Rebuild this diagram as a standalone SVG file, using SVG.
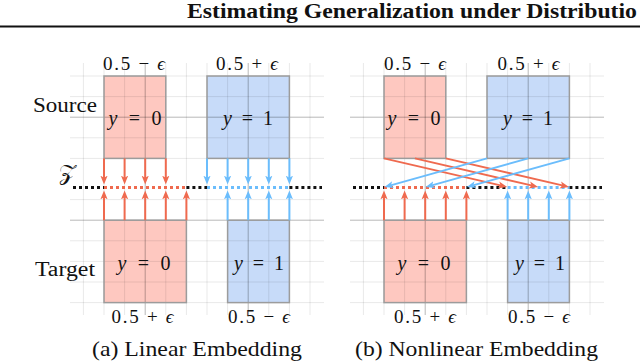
<svg xmlns="http://www.w3.org/2000/svg" width="640" height="362" viewBox="0 0 640 362">
<defs>
<style>
.t{font-family:"Liberation Serif","DejaVu Serif",serif;fill:#111;}
.lab{font-size:19px;text-anchor:middle;}
.math{font-size:20px;text-anchor:middle;}
.i{font-style:italic;}
.minor{stroke:#000;stroke-opacity:0.09;stroke-width:1;fill:none;}
.major{stroke:#000;stroke-opacity:0.28;stroke-width:1;fill:none;}
.boxr{fill:#FEC8C0;}
.boxb{fill:#C7DBF9;}
.edge{fill:none;stroke:#9c9c9c;stroke-width:1.5;}
.ar{stroke:#EF6A4F;stroke-width:2;fill:none;}
.ab{stroke:#6BBDFC;stroke-width:2;fill:none;}
.dk{stroke:#111;stroke-width:3;stroke-dasharray:3 3;fill:none;}
.dr{stroke:#EF6A4F;stroke-width:3;stroke-dasharray:3 3;fill:none;}
.db{stroke:#6BBDFC;stroke-width:3;stroke-dasharray:3 3;fill:none;}
</style>
<marker id="mr" viewBox="0 0 10 8" refX="6" refY="4" markerWidth="9" markerHeight="8" markerUnits="userSpaceOnUse" orient="auto">
<path d="M0,0 L10,4 L0,8 L2.5,4 z" fill="#EF6A4F"/>
</marker>
<marker id="mb" viewBox="0 0 10 8" refX="6" refY="4" markerWidth="9" markerHeight="8" markerUnits="userSpaceOnUse" orient="auto">
<path d="M0,0 L10,4 L0,8 L2.5,4 z" fill="#6BBDFC"/>
</marker>
</defs>
<rect width="640" height="362" fill="#fff"/>

<text class="t" x="187" y="18" font-size="21" font-weight="bold" textLength="450" lengthAdjust="spacingAndGlyphs">Estimating Generalization under Distributio</text>
<line x1="0" y1="26.5" x2="640" y2="26.5" stroke="#111" stroke-width="2.2"/>

<!-- Panel (a) -->
<g id="panel-a">
<g id="a-src-y0"><rect class="boxr" x="104" y="76" width="61.8" height="82.4"/></g>
<g id="a-src-y1"><rect class="boxb" x="207" y="76" width="82.4" height="82.4"/></g>
<g id="a-tgt-y0"><rect class="boxr" x="104" y="220.2" width="82.4" height="82.4"/></g>
<g id="a-tgt-y1"><rect class="boxb" x="227.6" y="220.2" width="61.8" height="82.4"/></g>
<g id="a-grid">
<path class="minor" d="M83.4,63V315M104,63V315M124.6,63V315M165.8,63V315M186.4,63V315M207,63V315M227.6,63V315M268.8,63V315M289.4,63V315M310,63V315"/>
<path class="minor" d="M70,76H324M70,96.6H324M70,137.8H324M70,158.4H324M70,199.6H324M70,240.8H324M70,261.4H324M70,282H324M70,302.6H324"/>
<path class="major" d="M145.2,63V315M248.2,63V315M70,117.2H324M70,220.2H324"/>
</g>
<rect class="edge" x="104" y="76" width="61.8" height="82.4"/>
<rect class="edge" x="207" y="76" width="82.4" height="82.4"/>
<rect class="edge" x="104" y="220.2" width="82.4" height="82.4"/>
<rect class="edge" x="227.6" y="220.2" width="61.8" height="82.4"/>
</g>

<!-- Panel (b) -->
<g id="panel-b">
<g id="b-src-y0"><rect class="boxr" x="384" y="76" width="61.8" height="82.4"/></g>
<g id="b-src-y1"><rect class="boxb" x="487" y="76" width="82.4" height="82.4"/></g>
<g id="b-tgt-y0"><rect class="boxr" x="384" y="220.2" width="82.4" height="82.4"/></g>
<g id="b-tgt-y1"><rect class="boxb" x="507.6" y="220.2" width="61.8" height="82.4"/></g>
<g id="b-grid">
<path class="minor" d="M363.4,63V315M384,63V315M404.6,63V315M445.8,63V315M466.4,63V315M487,63V315M507.6,63V315M548.8,63V315M569.4,63V315M590,63V315"/>
<path class="minor" d="M350,76H604M350,96.6H604M350,137.8H604M350,158.4H604M350,199.6H604M350,240.8H604M350,261.4H604M350,282H604M350,302.6H604"/>
<path class="major" d="M425.2,63V315M528.2,63V315M350,117.2H604M350,220.2H604"/>
</g>
<rect class="edge" x="384" y="76" width="61.8" height="82.4"/>
<rect class="edge" x="487" y="76" width="82.4" height="82.4"/>
<rect class="edge" x="384" y="220.2" width="82.4" height="82.4"/>
<rect class="edge" x="507.6" y="220.2" width="61.8" height="82.4"/>
</g>

<g id="connectors">
<path class="dk" d="M73,187.5H104M186.4,187.5H207M289.4,187.5H322"/>
<path class="dr" d="M104,187.5H186.4"/>
<path class="db" d="M207,187.5H289.4"/>
<path class="dk" d="M353,187.5H384M466.4,187.5H507.6M569.4,187.5H602"/>
<path class="dr" d="M384,187.5H466.4"/>
<path class="db" d="M507.6,187.5H569.4"/>

<g class="ar" marker-end="url(#mr)">
<path d="M104,158.4V181"/><path d="M124.6,158.4V181"/><path d="M145.2,158.4V181"/><path d="M165.8,158.4V181"/>
</g>
<g class="ab" marker-end="url(#mb)">
<path d="M207,158.4V181"/><path d="M227.6,158.4V181"/><path d="M248.2,158.4V181"/><path d="M268.8,158.4V181"/><path d="M289.4,158.4V181"/>
</g>
<g class="ar" marker-end="url(#mr)">
<path d="M104,220.2V194"/><path d="M124.6,220.2V194"/><path d="M145.2,220.2V194"/><path d="M165.8,220.2V194"/><path d="M186.4,220.2V194"/>
</g>
<g class="ab" marker-end="url(#mb)">
<path d="M227.6,220.2V194"/><path d="M248.2,220.2V194"/><path d="M268.8,220.2V194"/><path d="M289.4,220.2V194"/>
</g>

<g class="ar" marker-end="url(#mr)">
<path d="M384,158.4L503.7,186.1"/><path d="M414.9,158.4L534.6,186.1"/><path d="M445.8,158.4L565.5,186.1"/>
</g>
<g class="ab" marker-end="url(#mb)">
<path d="M487,158.4L387.9,186.1"/><path d="M528.2,158.4L429.1,186.1"/><path d="M569.4,158.4L470.3,186.1"/>
</g>
<g class="ar" marker-end="url(#mr)">
<path d="M384,220.2V194"/><path d="M404.6,220.2V194"/><path d="M425.2,220.2V194"/><path d="M445.8,220.2V194"/><path d="M466.4,220.2V194"/>
</g>
<g class="ab" marker-end="url(#mb)">
<path d="M507.6,220.2V194"/><path d="M528.2,220.2V194"/><path d="M548.8,220.2V194"/><path d="M569.4,220.2V194"/>
</g>
</g>

<g id="labels">
<text class="t lab" x="134" y="69.5" textLength="62" lengthAdjust="spacing">0.5 − <tspan class="i">ϵ</tspan></text>
<text class="t lab" x="247" y="69.5" textLength="62" lengthAdjust="spacing">0.5 + <tspan class="i">ϵ</tspan></text>
<text class="t lab" x="142.5" y="322.5" textLength="62" lengthAdjust="spacing">0.5 + <tspan class="i">ϵ</tspan></text>
<text class="t lab" x="259" y="322.5" textLength="62" lengthAdjust="spacing">0.5 − <tspan class="i">ϵ</tspan></text>
<text class="t lab" x="415" y="69.5" textLength="62" lengthAdjust="spacing">0.5 − <tspan class="i">ϵ</tspan></text>
<text class="t lab" x="528.5" y="69.5" textLength="62" lengthAdjust="spacing">0.5 + <tspan class="i">ϵ</tspan></text>
<text class="t lab" x="425" y="322.5" textLength="62" lengthAdjust="spacing">0.5 + <tspan class="i">ϵ</tspan></text>
<text class="t lab" x="539" y="322.5" textLength="62" lengthAdjust="spacing">0.5 − <tspan class="i">ϵ</tspan></text>

<text class="t math" x="135" y="125" textLength="53" lengthAdjust="spacing"><tspan class="i">y</tspan> = 0</text>
<text class="t math" x="248" y="125" textLength="50" lengthAdjust="spacing"><tspan class="i">y</tspan> = 1</text>
<text class="t math" x="144" y="270" textLength="53" lengthAdjust="spacing"><tspan class="i">y</tspan> = 0</text>
<text class="t math" x="259" y="270" textLength="50" lengthAdjust="spacing"><tspan class="i">y</tspan> = 1</text>
<text class="t math" x="414" y="125" textLength="53" lengthAdjust="spacing"><tspan class="i">y</tspan> = 0</text>
<text class="t math" x="528" y="125" textLength="50" lengthAdjust="spacing"><tspan class="i">y</tspan> = 1</text>
<text class="t math" x="424" y="270" textLength="53" lengthAdjust="spacing"><tspan class="i">y</tspan> = 0</text>
<text class="t math" x="540" y="270" textLength="50" lengthAdjust="spacing"><tspan class="i">y</tspan> = 1</text>

<text class="t" x="33" y="112" font-size="20" textLength="64" lengthAdjust="spacingAndGlyphs">Source</text>
<text class="t" x="35" y="276" font-size="20" textLength="60" lengthAdjust="spacingAndGlyphs">Target</text>
<text x="59" y="180" font-size="22" font-family="DejaVu Sans, Noto Sans, serif" fill="#111">𝒵</text>

<text class="t" x="92" y="356" font-size="21" textLength="210" lengthAdjust="spacingAndGlyphs">(a) Linear Embedding</text>
<text class="t" x="355" y="356" font-size="21" textLength="243" lengthAdjust="spacingAndGlyphs">(b) Nonlinear Embedding</text>
</g>
</svg>
